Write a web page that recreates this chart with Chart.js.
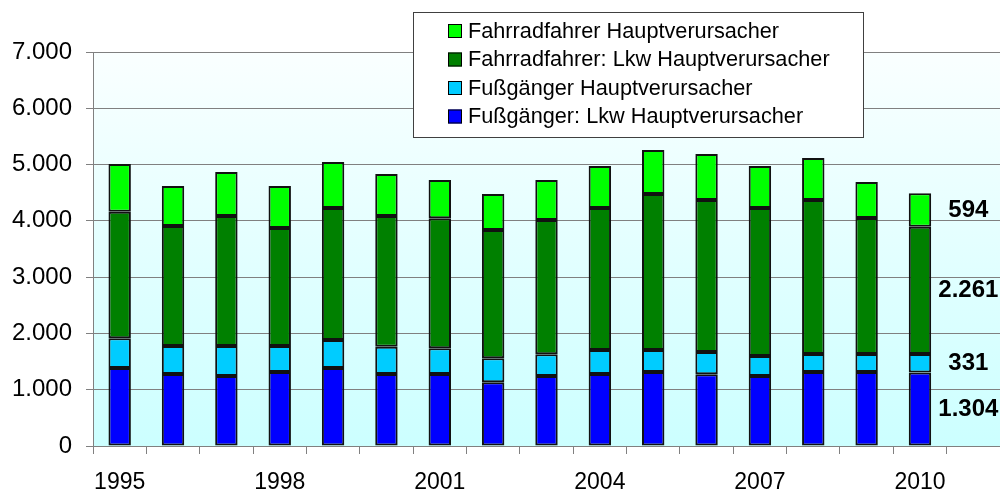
<!DOCTYPE html>
<html>
<head>
<meta charset="utf-8">
<script src="https://cdn.jsdelivr.net/npm/chart.js@4"></script>
<style>
  html, body { margin: 0; padding: 0; background: #fff; overflow: hidden; }
  canvas { display: block; }
</style>
</head>
<body>
<canvas id="chart" width="1000" height="493"></canvas>
<script>
// Daten
const years = ['1995', '1996', '1997', '1998', '1999', '2000', '2001', '2002',
               '2003', '2004', '2005', '2006', '2007', '2008', '2009', '2010', ''];

const fussLkw    = [1385, 1279, 1243, 1315, 1385, 1279, 1279, 1132, 1243, 1279, 1315, 1273, 1243, 1315, 1315, 1304, null];
const fussHaupt  = [528, 497, 533, 461, 498, 485, 456, 426, 386, 426, 390, 397, 356, 319, 319, 331, null];
const radLkw     = [2249, 2132, 2310, 2097, 2345, 2322, 2310, 2279, 2386, 2523, 2772, 2700, 2629, 2736, 2416, 2261, null];
const radHaupt   = [848, 711, 782, 746, 817, 746, 681, 640, 711, 746, 781, 817, 746, 746, 640, 594, null];

const yTicks = [0, 1000, 2000, 3000, 4000, 5000, 6000, 7000];

const FONT = '"Liberation Sans", Arial, sans-serif';

function fmt(v) {
    return String(v).replace(/\B(?=(\d{3})+(?!\d))/g, '.');
}

// Hintergrund-Verlauf der Zeichenfläche
const bgPlugin = {
    id: 'bg',
    beforeDraw(chart) {
        const { ctx, chartArea: a } = chart;
        const g = ctx.createLinearGradient(0, a.top, 0, a.bottom);
        g.addColorStop(0, '#FAFFFF');
        g.addColorStop(1, '#CCFFFF');
        ctx.save();
        ctx.fillStyle = g;
        ctx.fillRect(a.left, a.top, a.right - a.left, a.bottom - a.top);
        ctx.restore();
    }
};

// Werte 2010 rechts neben dem letzten Balken + Legende
const overlayPlugin = {
    id: 'overlay',
    afterDraw(chart) {
        const ctx = chart.ctx;
        const xs = chart.scales.x, ys = chart.scales.y;
        const last = 15;
        const x = xs.getPixelForValue(16) - 5;
        let base = 0;
        ctx.save();
        ctx.font = 'bold 24px ' + FONT;
        ctx.fillStyle = '#000';
        ctx.textAlign = 'center';
        ctx.textBaseline = 'middle';
        chart.data.datasets.forEach(ds => {
            const v = ds.data[last];
            ctx.fillText(fmt(v), x, ys.getPixelForValue(base + v / 2));
            base += v;
        });

        // Legende
        const bx = 413, by = 12, bw = 450, bh = 125;
        ctx.fillStyle = '#fff';
        ctx.fillRect(bx, by, bw, bh);
        ctx.strokeStyle = '#404040';
        ctx.lineWidth = 1;
        ctx.strokeRect(bx + 0.5, by + 0.5, bw, bh);
        ctx.font = '21.7px ' + FONT;
        ctx.textAlign = 'left';
        const items = chart.data.datasets.slice().reverse();
        items.forEach((ds, i) => {
            const cy = 31 + i * 28.5;
            ctx.fillStyle = ds.backgroundColor;
            ctx.fillRect(448, cy - 7, 14, 14);
            ctx.strokeStyle = '#000';
            ctx.strokeRect(448.5, cy - 6.5, 13, 13);
            ctx.fillStyle = '#000';
            ctx.fillText(ds.label, 468, cy + 1);
        });
        ctx.restore();
    }
};

function series(label, data, color) {
    return {
        label: label,
        data: data,
        backgroundColor: color,
        borderColor: '#111',
        borderWidth: 2,
        borderSkipped: false,
        barPercentage: 0.42,
        categoryPercentage: 1
    };
}

const ctx = document.getElementById('chart').getContext('2d');
const chart = new Chart(ctx, {
    type: 'bar',
    data: {
        labels: years,
        datasets: [
            series('Fußgänger: Lkw Hauptverursacher', fussLkw, '#0000FF'),
            series('Fußgänger Hauptverursacher', fussHaupt, '#00CCFF'),
            series('Fahrradfahrer: Lkw Hauptverursacher', radLkw, '#008000'),
            series('Fahrradfahrer Hauptverursacher', radHaupt, '#00FF00')
        ]
    },
    options: {
        responsive: false,
        animation: false,
        layout: { padding: { top: 52, right: 0, left: 0, bottom: 0 } },
        plugins: {
            legend: { display: false },
            title: { display: false },
            tooltip: { enabled: false }
        },
        scales: {
            x: {
                stacked: true,
                afterFit: s => { s.height = 47; },
                grid: {
                    drawOnChartArea: false,
                    drawTicks: true,
                    tickLength: 8,
                    tickColor: '#808080',
                    offset: true
                },
                border: { color: '#808080', width: 1 },
                ticks: {
                    autoSkip: false,
                    maxRotation: 0,
                    padding: 15,
                    color: '#000',
                    font: { family: FONT, size: 23 },
                    callback: function (v, i) {
                        return i % 3 === 0 ? this.getLabelForValue(v) : '';
                    }
                }
            },
            y: {
                stacked: true,
                min: 0,
                max: 7000,
                afterFit: s => { s.width = 93; },
                afterBuildTicks: s => { s.ticks = yTicks.map(v => ({ value: v })); },
                grid: {
                    color: '#808080',
                    lineWidth: 1,
                    drawTicks: true,
                    tickLength: 7,
                    tickColor: '#808080'
                },
                border: { color: '#808080', width: 1 },
                ticks: {
                    padding: 14,
                    color: '#000',
                    font: { family: FONT, size: 24 },
                    callback: v => fmt(v)
                }
            }
        }
    },
    plugins: [bgPlugin, overlayPlugin]
});
</script>
</body>
</html>
